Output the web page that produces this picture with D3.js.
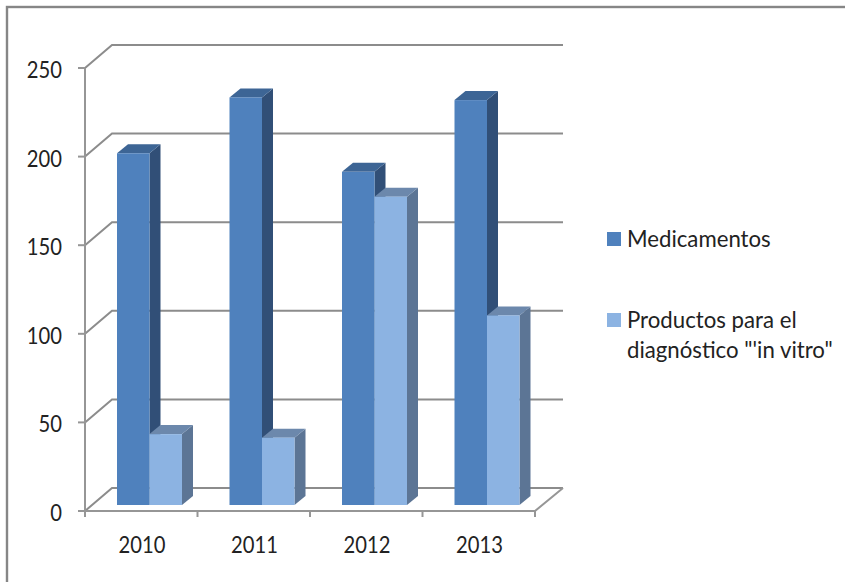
<!DOCTYPE html>
<html>
<head>
<meta charset="utf-8">
<script src="https://d3js.org/d3.v7.min.js"></script>
<style>
html,body{margin:0;padding:0;background:#fff;overflow:hidden}
svg{display:block}
text{font-family:Lato,"Open Sans",sans-serif;fill:#222}
</style>
</head>
<body>
<script>
// Series and labels
const years = ["2010", "2011", "2012", "2013"];
const seriesNames = ["Medicamentos", "Productos para el diagnóstico"];
const medicamentos = [198.5, 230, 188, 228.5];
const productos = [40, 38, 174, 107];
const yTicks = [0, 50, 100, 150, 200, 250];
const legendLines = [["Medicamentos"], ["Productos para el", "diagnóstico \"'in vitro\""]];

const W = 845, H = 582;
const svg = d3.select("body").append("svg").attr("width", W).attr("height", H);

// Outer frame: only its top and left edges fall inside the page
svg.append("rect").attr("x", 7).attr("y", 7).attr("width", 900).attr("height", 640)
  .attr("fill", "#fff").attr("stroke", "#868686").attr("stroke-width", 2.4);

// Pseudo-3D chart box: front plane, back wall offset, and bar depth offset
const back = {dx: 27, dy: -23};
const barDepth = {dx: 11, dy: -9};
const barBaseShift = 6;

const y = d3.scaleLinear().domain([0, 250]).range([511, 68]);
const x = d3.scaleBand().domain(years).range([85, 535]);
const xs = d3.scaleBand().domain(seriesNames).range([32, 97]);

const axisColor = "#969696", gridColor = "#8c8c8c";
const chart = svg.append("g");

// Narrowed text, close to the condensed proportions of the labels
const fontSize = 23.5, axisSqueeze = 0.86, legendSqueeze = 0.945;
function label(parent, px, py, anchor, str, squeeze) {
  return parent.append("text")
    .attr("transform", `translate(${px},${py}) scale(${squeeze},1)`)
    .attr("text-anchor", anchor).attr("font-size", fontSize).text(str);
}

// Back-wall gridlines with their diagonal run along the side wall
yTicks.forEach(t => {
  const py = y(t);
  chart.append("path")
    .attr("d", d3.line()([[85, py], [85 + back.dx, py + back.dy], [563, py + back.dy]]))
    .attr("fill", "none").attr("stroke", gridColor).attr("stroke-width", 2);
});

// Floor: front edge and right diagonal
chart.append("path")
  .attr("d", d3.line()([[85, y(0)], [535, y(0)], [535 + back.dx + 1, y(0) + back.dy]]))
  .attr("fill", "none").attr("stroke", axisColor).attr("stroke-width", 2);

// Vertical axis line and tick marks
chart.append("line").attr("x1", 85).attr("x2", 85).attr("y1", y(250)).attr("y2", y(0) + 6)
  .attr("stroke", axisColor).attr("stroke-width", 2);
chart.selectAll("line.ytick").data(yTicks).join("line").attr("class", "ytick")
  .attr("x1", 78).attr("x2", 85).attr("y1", d => y(d)).attr("y2", d => y(d))
  .attr("stroke", axisColor).attr("stroke-width", 2);
chart.selectAll("line.xtick").data(x.domain().map(d => x(d)).concat([x.range()[1]])).join("line").attr("class", "xtick")
  .attr("x1", d => d).attr("x2", d => d).attr("y1", y(0)).attr("y2", y(0) + 6)
  .attr("stroke", axisColor).attr("stroke-width", 2);

// Axis labels
yTicks.forEach(t => label(chart, 62, y(t) + 10, "end", t, axisSqueeze));
years.forEach(yr => label(chart, x(yr) + 57, 553, "middle", yr, axisSqueeze));

// Bars: top and side faces first, front face on top
const colors = [
  {front: "#4f81bd", top: "#3d6595", side: "#314f77"},
  {front: "#8cb3e2", top: "#6c88ac", side: "#5c7595"}
];
const barData = years.flatMap((yr, i) => [
  {yr, s: seriesNames[0], v: medicamentos[i], c: colors[0]},
  {yr, s: seriesNames[1], v: productos[i], c: colors[1]}
]);
const bars = chart.selectAll("g.bar").data(barData).join("g").attr("class", "bar");
bars.each(function(d) {
  const g = d3.select(this);
  const x0 = x(d.yr) + xs(d.s), x1 = x0 + xs.bandwidth();
  const base = y(0) - barBaseShift, top = y(d.v) - barBaseShift;
  const {dx, dy} = barDepth;
  const line = d3.line();
  g.append("path").attr("fill", d.c.side)
    .attr("d", line([[x1, top], [x1 + dx, top + dy], [x1 + dx, base + dy], [x1, base]]) + "Z");
  g.append("path").attr("fill", d.c.top)
    .attr("d", line([[x0, top], [x0 + dx, top + dy], [x1 + dx, top + dy], [x1, top]]) + "Z");
  g.append("rect").attr("x", x0).attr("y", top).attr("width", x1 - x0).attr("height", base - top)
    .attr("fill", d.c.front);
});

// Legend
const legendRows = [{ySwatch: 232, c: colors[0].front}, {ySwatch: 313, c: colors[1].front}];
legendRows.forEach((r, i) => {
  svg.append("rect").attr("x", 607).attr("y", r.ySwatch).attr("width", 14).attr("height", 14).attr("fill", r.c);
  legendLines[i].forEach((t, j) => label(svg, 627, r.ySwatch + 15 + j * 30, "start", t, legendSqueeze));
});
</script>
</body>
</html>
